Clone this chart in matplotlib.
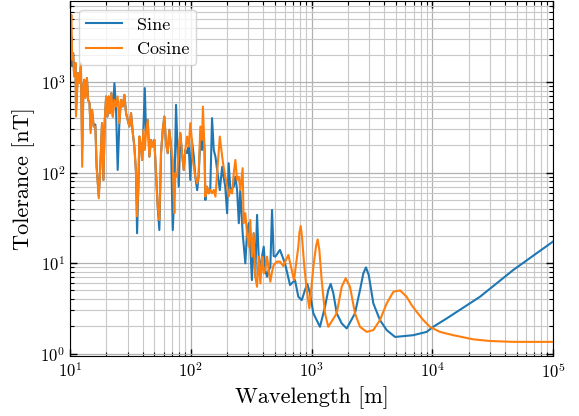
import matplotlib
matplotlib.use("Agg")
import matplotlib.pyplot as plt

plt.rcParams['font.family'] = 'serif'
plt.rcParams['font.serif'] = ['cmr10']
plt.rcParams['mathtext.fontset'] = 'cm'
plt.rcParams['axes.formatter.use_mathtext'] = True
plt.rcParams['axes.unicode_minus'] = False

# wavelength [m] and tolerance [nT]
sine_wl = [10.0, 10.25, 10.4, 10.6, 10.8, 11.1, 11.2, 11.6, 11.9, 12.3, 12.6, 12.9, 13.1, 13.4,
           13.8, 14.1, 14.5, 14.8, 15.2, 15.7, 16.2, 16.6, 17.3, 17.8, 18.4, 18.9, 19.4, 19.9,
           20.4, 20.9, 21.4, 22.0, 22.6, 23.3, 24.0, 24.8, 25.6, 26.4, 27.3, 28.2, 29.1, 30.0,
           31.0, 32.0, 33.1, 34.1, 35.2, 35.9, 36.8, 37.5, 38.7, 39.5, 40.5, 41.6, 42.6, 44.0,
           45.4, 46.9, 48.4, 49.9, 51.5, 53.2, 54.9, 56.7, 58.6, 60.4, 62.4, 64.4, 66.4, 68.6,
           70.9, 73.1, 75.5, 79.5, 81.9, 84.6, 87.4, 90.1, 93.1, 96.2, 99.1, 102, 106, 109,
           113, 116, 120, 124, 126, 130, 132, 136, 141, 145, 150, 155, 160, 174, 182, 187,
           193, 200, 206, 213, 227, 234, 242, 250, 257, 269, 283, 292, 302, 311, 321, 332,
           342, 354, 365, 377, 389, 402, 414, 428, 442, 456, 471, 486, 501, 518, 535,
           548, 603, 664, 730, 778, 830, 883, 923, 972, 1036, 1175, 1294, 1377, 1442, 1517,
           1618, 1779, 1958, 2291, 2522, 2687, 2827, 2980, 3253, 3690, 4197, 4920, 6970, 8990,
           10200, 13180, 24850, 46900, 100000]
sine_tol = [2000, 3200, 1500, 2094, 1250, 1623, 480, 1258, 975, 1500, 180, 894, 1060, 700,
            1107, 637, 586, 300, 494, 323, 340, 116, 55, 116, 352, 83, 383, 693,
            416, 693, 454, 756, 416, 975, 537, 107, 352, 637, 537, 723, 454, 383,
            323, 454, 273, 194, 98.5, 21.4, 70, 250, 194, 138, 297, 858, 273, 383,
            150, 230, 194, 230, 98.5, 42, 23.2, 164, 297, 416, 211, 164, 297, 194,
            23.2, 60, 561, 70, 273, 164, 107, 178, 164, 194, 83, 230, 150, 90,
            64, 90, 230, 178, 300, 178, 49.9, 70, 59, 64, 400, 178, 150, 64, 116, 90,
            70, 35.6, 127, 64, 70, 90, 64, 27.6, 64, 21.4, 9.95, 21.4, 27.6, 15, 6.5, 21.4,
            7.07, 34.1, 11.8, 8.39, 11.8, 15.2, 8.39, 7.07, 8.39, 9.0, 38.7, 12, 11.8, 12.5, 13.4,
            14.0, 9.95, 5.73, 6.5, 4.25, 3.9, 5.04, 5.9, 4.63, 2.79, 1.98, 3.30, 5.04, 5.9, 4.63,
            2.79, 2.16, 1.90, 2.79, 5.04, 7.7, 8.97, 7.38, 3.59, 2.35, 1.82, 1.53, 1.60, 1.74,
            1.98, 2.45, 4.25, 8.4, 17.3]

cos_wl = [10.0, 10.25, 10.4, 10.6, 10.8, 11.1, 11.2, 11.6, 11.9, 12.3, 12.6, 12.9, 13.1, 13.4,
          13.8, 14.1, 14.5, 14.8, 15.2, 15.7, 16.2, 16.6, 17.3, 17.8, 18.4, 18.9, 19.4, 19.9,
          20.4, 20.9, 21.4, 22.0, 22.6, 23.3, 24.0, 24.8, 25.6, 26.4, 27.3, 28.2, 29.1, 30.0,
          31.0, 32.0, 33.1, 34.1, 35.2, 35.9, 36.8, 37.5, 38.7, 39.5, 40.5, 41.6, 42.6, 44.0,
          45.4, 46.9, 48.4, 49.9, 51.5, 53.2, 54.9, 56.7, 58.6, 60.4, 62.4, 64.4, 66.4, 68.6,
          70.9, 72.0, 73.1, 74.5, 77.0, 79.5, 81.9, 84.6, 87.4, 90.1, 93.1, 96.2, 99.1, 102,
          103, 106, 109, 113, 116, 120, 124, 126, 130, 132, 136, 141, 145, 150, 155, 160,
          174, 182, 187, 193, 200, 206, 213, 220, 227, 234, 242, 250, 257, 269, 274, 283,
          292, 302, 311, 321, 332, 342, 354, 365, 377, 389, 402, 414, 428, 442, 456, 471,
          486, 501, 518, 535,
          548, 583, 643, 716, 778, 793, 814, 834, 867, 913, 960, 1036, 1089, 1125, 1161,
          1214, 1294, 1377, 1618, 1779, 1919, 2084, 2291, 2522, 2865, 3253, 3690, 4197, 4766,
          5410, 6140, 6755, 7430, 8430, 9570, 11590, 14930, 21870, 30000, 46900, 100000]
cos_tol = [3000, 5550, 1765, 2094, 1153, 1623, 416, 1258, 975, 1623, 116, 894, 1060, 665,
           1107, 637, 586, 273, 494, 323, 323, 116, 52.1, 116, 352, 83, 383, 693,
           416, 693, 454, 756, 416, 637, 537, 693, 352, 637, 537, 723, 454, 383,
           323, 454, 273, 194, 98.5, 33, 70, 250, 194, 138, 297, 178, 273, 383,
           150, 230, 194, 230, 98.5, 42.1, 30, 164, 297, 416, 211, 164, 297, 194,
           138, 64.4, 35.6, 98.5, 90.3, 194, 273, 164, 107, 178, 250, 194, 352, 230,
           150, 116, 90.3, 76.3, 90.3, 323, 230, 537, 178, 54.3, 70, 59.2, 64.4, 59.2, 64.4, 54.3,
           250, 150, 116, 90.3, 70, 54.3, 64.4, 59, 98.5, 138, 83, 90.3, 64.4, 112, 27.6, 35.6,
           21.4, 15.2, 30, 11.8, 21.4, 7.07, 5.48, 11.8, 5.98, 11.8, 7.71, 8.39, 11.8, 8.39, 6.23, 8.03,
           9.53, 9.95, 10.4, 10.4,
           10.4, 9.3, 12.3, 6.5, 15.2, 21.4, 25.7, 19.6, 9.95, 5.04, 3.16, 9.12, 15.2, 18.3, 14,
           6.5, 2.79, 1.98, 2.79, 5.48, 6.8, 5.48, 2.79, 1.98, 1.74, 1.82, 2.35, 3.59, 4.83,
           5.0, 4.25, 3.44, 2.9, 2.35, 1.98, 1.74, 1.60, 1.44, 1.38, 1.35, 1.35]

fig = plt.figure(figsize=(5.79, 4.16), dpi=100)
ax = fig.add_axes([0.121, 0.144, 0.834, 0.854])

ax.loglog(sine_wl, sine_tol, color='#1f77b4', lw=1.5, label='Sine')
ax.loglog(cos_wl, cos_tol, color='#ff7f0e', lw=1.5, label='Cosine')

ax.set_xlim(10, 1e5)
ax.set_ylim(0.94, 7900)
ax.grid(True, which='major', color='#b0b0b0', lw=0.9)
ax.grid(True, which='minor', color='#c8c8c8', lw=0.8)
ax.tick_params(which='both', direction='in', top=True, right=True, labelsize=12)
ax.tick_params(which='major', length=5, width=1)
ax.tick_params(which='minor', length=3, width=0.8)

ax.set_xlabel('Wavelength [m]', fontsize=16)
ax.set_ylabel('Tolerance [nT]', fontsize=16)
ax.legend(loc='upper left', fontsize=13)

plt.savefig('out.png')
